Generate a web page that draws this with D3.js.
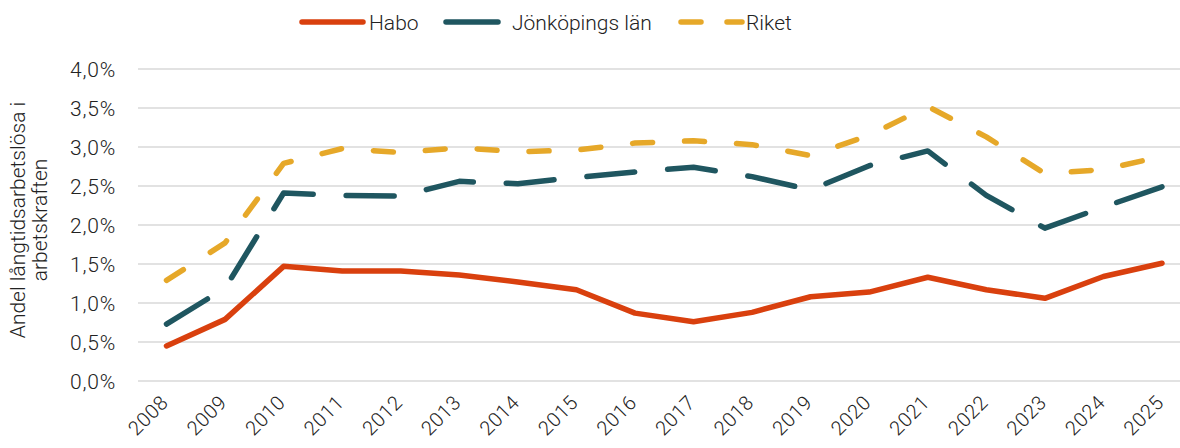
<!DOCTYPE html>
<html>
<head>
<meta charset="utf-8">
<script src="https://cdn.jsdelivr.net/npm/d3@7"></script>
<style>
  body { margin: 0; background: #fff; }
  svg text { font-family: Roboto, "Open Sans", sans-serif; font-weight: 300; fill: #222; }
</style>
</head>
<body>
<div id="chart"></div>
<script>
// data
const years  = ["2008","2009","2010","2011","2012","2013","2014","2015","2016",
                "2017","2018","2019","2020","2021","2022","2023","2024","2025"];
const habo   = [0.45,0.79,1.47,1.41,1.41,1.36,1.27,1.17,0.87,
                0.76,0.88,1.08,1.14,1.33,1.17,1.06,1.34,1.51];
const jkpg   = [0.73,1.19,2.41,2.38,2.37,2.56,2.53,2.61,2.68,
                2.74,2.62,2.45,2.76,2.95,2.38,1.96,2.23,2.49];
const riket  = [1.29,1.77,2.79,2.98,2.93,2.99,2.94,2.96,3.05,
                3.08,3.03,2.89,3.15,3.52,3.13,2.66,2.71,2.88];
const yTicks = [0,0.5,1,1.5,2,2.5,3,3.5,4];

const series = [
  { name: "Habo",           values: habo,  color: "#d9400e", dash: null },
  { name: "Jönköpings län", values: jkpg,  color: "#1f5660", dash: "48,33" },
  { name: "Riket",          values: riket, color: "#e6a829", dash: "20,32" }
];

const width = 1180, height = 448;
const svg = d3.select("#chart").append("svg")
  .attr("width", width).attr("height", height);

const x = d3.scalePoint().domain(years).range([166.5, 1162]);
const y = d3.scaleLinear().domain([0, 4]).range([381, 69]);

// gridlines
svg.append("g").selectAll("line")
  .data(yTicks)
  .join("line")
    .attr("x1", 138).attr("x2", width)
    .attr("y1", d => y(d)).attr("y2", d => y(d))
    .attr("stroke", "#d9d9d9").attr("stroke-width", 1.5);

// y axis labels
const fmt = d => d.toFixed(1).replace(".", ",") + "%";
svg.append("g").selectAll("text")
  .data(yTicks)
  .join("text")
    .attr("x", 116).attr("y", d => y(d))
    .attr("dy", "0.36em")
    .attr("text-anchor", "end")
    .style("font-size", "21px")
    .style("letter-spacing", "0.8px")
    .text(fmt);

// y axis title, two lines
const yt = svg.append("text")
  .attr("transform", "translate(0,220) rotate(-90)")
  .attr("text-anchor", "middle")
  .style("font-size", "21px");
yt.append("tspan").attr("x", 0).attr("y", 25).text("Andel långtidsarbetslösa i");
yt.append("tspan").attr("x", 0).attr("y", 47).text("arbetskraften");

// x axis labels
svg.append("g").selectAll("text")
  .data(years)
  .join("text")
    .attr("transform", d => `translate(${x(d) - 7},${394}) rotate(-45)`)
    .attr("text-anchor", "end")
    .attr("dy", "0.7em")
    .style("font-size", "20px")
    .style("letter-spacing", "0.5px")
    .text(d => d);

// lines
const line = d3.line()
  .x((d, i) => x(years[i]))
  .y(d => y(d));

svg.append("g").selectAll("path")
  .data(series.slice().reverse())
  .join("path")
    .attr("d", d => line(d.values))
    .attr("fill", "none")
    .attr("stroke", d => d.color)
    .attr("stroke-width", 5.5)
    .attr("stroke-linecap", "round")
    .attr("stroke-linejoin", "round")
    .attr("stroke-dasharray", d => d.dash);

// legend
const legendItems = [
  { s: series[0], x1: 302, x2: 363, tx: 369 },
  { s: series[1], x1: 446, x2: 498, tx: 512 },
  { s: series[2], x1: 681, x2: 742, tx: 746 }
];
const lg = svg.append("g").selectAll("g")
  .data(legendItems)
  .join("g");
lg.append("line")
  .attr("x1", d => d.x1).attr("x2", d => d.x2)
  .attr("y1", 22).attr("y2", 22)
  .attr("stroke", d => d.s.color)
  .attr("stroke-width", 5.5)
  .attr("stroke-linecap", "round")
  .attr("stroke-dasharray", d => d.s.name === "Riket" ? "20,26" : null);
lg.append("text")
  .attr("x", d => d.tx).attr("y", 22)
  .attr("dy", "0.36em")
  .style("font-size", "21px")
  .text(d => d.s.name);
</script>
</body>
</html>
